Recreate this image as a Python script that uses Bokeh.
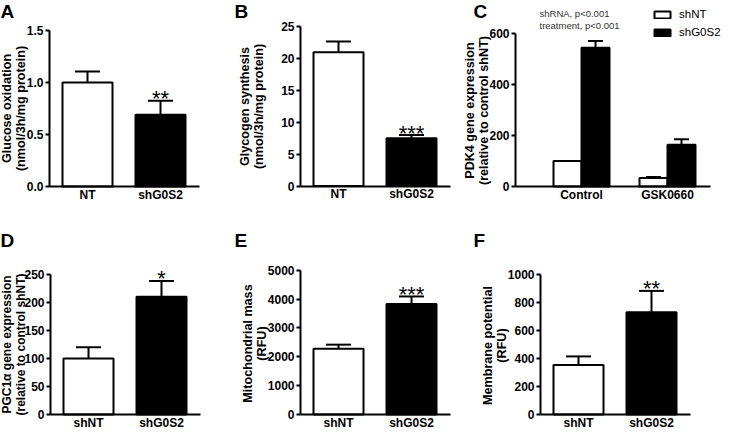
import math
from bokeh.plotting import figure
from bokeh.layouts import row, column
from bokeh.models import (FixedTicker, Whisker, TeeHead, Label, Legend, LegendItem,
                          ColumnDataSource, NumeralTickFormatter)
from bokeh.core.properties import value
from bokeh.embed import file_html
from bokeh.resources import INLINE

FONT = "Liberation Sans"

# ---------------- data ----------------
# Panel A: glucose oxidation
a_groups = ["NT", "shG0S2"]
a_mean = [1.00, 0.69]
a_sem = [0.106, 0.135]
a_stars = ["", "**"]
a_yticks = [0.0, 0.5, 1.0, 1.5]
a_ylabel = "Glucose oxidation\n(nmol/3h/mg protein)"

# Panel B: glycogen synthesis
b_groups = ["NT", "shG0S2"]
b_mean = [21.0, 7.5]
b_sem = [1.7, 0.5]
b_stars = ["", "***"]
b_yticks = [0, 5, 10, 15, 20, 25]
b_ylabel = "Glycogen synthesis\n(nmol/3h/mg protein)"

# Panel C: PDK4 gene expression
c_groups = ["Control", "GSK0660"]
c_series = ["shNT", "shG0S2"]
c_shNT_mean = [100, 33]
c_shNT_sem = [0, 4]
c_shG0S2_mean = [545, 164]
c_shG0S2_sem = [27, 22]
c_yticks = [0, 200, 400, 600]
c_notes = ["shRNA, p<0.001", "treatment, p<0.001"]
c_ylabel = "PDK4 gene expression\n(relative to control shNT)"

# Panel D: PGC1a gene expression
d_groups = ["shNT", "shG0S2"]
d_mean = [100, 210]
d_sem = [20, 28]
d_stars = ["", "*"]
d_yticks = [0, 50, 100, 150, 200, 250]
d_ylabel = "PGC1\u03b1 gene expression\n(relative to control shNT)"

# Panel E: mitochondrial mass
e_groups = ["shNT", "shG0S2"]
e_mean = [2280, 3830]
e_sem = [140, 260]
e_stars = ["", "***"]
e_yticks = [0, 1000, 2000, 3000, 4000, 5000]
e_ylabel = "Mitochondrial mass\n(RFU)"

# Panel F: membrane potential
f_groups = ["shNT", "shG0S2"]
f_mean = [352, 729]
f_sem = [62, 152]
f_stars = ["", "**"]
f_yticks = [0, 200, 400, 600, 800, 1000]
f_ylabel = "Membrane potential\n(RFU)"

bar_colors = ["white", "black"]

# ---------------- layout (page pixels) ----------------
ROW1 = (8, 225)
ROW2 = (225, 439)
COLS = [(8, 240), (240, 470), (470, 730)]


def make_panel(col, rw, axis_x, x1, unit, x_end, zero_y, top_y, yticks, yfmt=None):
    left, right = col
    top, bottom = rw
    xs = 1 + (left - x1) / unit
    xe = 1 + (right - x1) / unit
    k = yticks[-1] / (zero_y - top_y)
    ys = -(bottom - zero_y) * k
    ye = (zero_y - top) * k
    p = figure(width=right - left, height=bottom - top, output_backend="svg",
               toolbar_location=None, title=None, x_range=(xs, xe), y_range=(ys, ye),
               min_border=0)
    p.outline_line_color = None
    p.grid.visible = False
    p.background_fill_color = "white"
    p.border_fill_color = "white"
    ax_x = 1 + (axis_x - x1) / unit
    for ax in (p.xaxis[0], p.yaxis[0]):
        ax.axis_line_width = 2
        ax.axis_line_color = "black"
        ax.major_tick_line_width = 2
        ax.major_tick_line_color = "black"
        ax.minor_tick_line_color = None
        ax.major_label_text_font = FONT
        ax.major_label_text_font_style = "bold"
        ax.major_label_text_font_size = "12px"
        ax.major_label_text_color = "black"
        ax.axis_label = None
    ya = p.yaxis[0]
    ya.fixed_location = ax_x
    ya.bounds = (yticks[0], yticks[-1])
    ya.ticker = FixedTicker(ticks=yticks)
    if yfmt:
        ya.formatter = NumeralTickFormatter(format=yfmt)
    ya.major_tick_out = 4
    ya.major_tick_in = 0
    ya.major_label_standoff = 2
    xa = p.xaxis[0]
    xa.fixed_location = 0
    xa.bounds = (ax_x, 1 + (x_end - x1) / unit)
    xa.major_tick_out = 0
    xa.major_tick_in = 0
    xa.major_label_standoff = 1
    p._box = (left, top, right, bottom)
    return p


def add_text(p, text, page_x, page_y, size, bold=True, baseline="top", color="black",
             align="left", angle=0.0):
    left, top, right, bottom = p._box
    p.add_layout(Label(x=page_x - left, y=bottom - page_y, x_units="screen",
                       y_units="screen", text=text, text_font=FONT,
                       text_font_style="bold" if bold else "normal",
                       text_font_size=size, text_baseline=baseline,
                       text_align=align, text_color=color, angle=angle,
                       text_line_height=1.0))


def add_ytitle(p, text, cx, cy, size="12.6px"):
    add_text(p, text, cx, cy, size, baseline="middle", align="center", angle=math.pi / 2)


def two_bar(p, groups, mean, sem, stars):
    xs = list(range(1, len(groups) + 1))
    src = ColumnDataSource(dict(x=xs, top=mean,
                                upper=[m + s for m, s in zip(mean, sem)],
                                fill=bar_colors, stars=stars))
    p.vbar(x="x", top="top", bottom=0, width=50 / 73, fill_color="fill",
           line_color="black", line_width=2, source=src)
    p.add_layout(Whisker(base="x", lower="top", upper="upper", source=src,
                         line_width=2, line_color="black", lower_head=None,
                         upper_head=TeeHead(size=25, line_width=2, line_color="black")))
    p.text(x="x", y="upper", text="stars", source=src, text_font=value(FONT),
           text_font_size="22px", text_align="center", text_baseline="alphabetic",
           y_offset=-2, text_color="black")
    p.xaxis[0].ticker = FixedTicker(ticks=xs)
    p.xaxis[0].major_label_overrides = {t: l for t, l in zip(xs, groups)}
    return p


# ---- Row 1 ----
pA = make_panel(COLS[0], ROW1, 57, 95, 73, 207, 194, 38, a_yticks, yfmt="0.0")
two_bar(pA, a_groups, a_mean, a_sem, a_stars)
add_ytitle(pA, a_ylabel, 21, 116)
add_text(pA, "A", 8, 8, "19px")

pB = make_panel(COLS[1], ROW1, 308, 346, 73, 458, 193.5, 34.3, b_yticks)
two_bar(pB, b_groups, b_mean, b_sem, b_stars)
add_ytitle(pB, b_ylabel, 259, 114)
add_text(pB, "B", 242, 8, "19px")

pC = make_panel(COLS[2], ROW1, 523, 589, 86, 718, 194, 41.3, c_yticks)
cx = list(range(1, len(c_groups) + 1))
off = 14 / 86
src_nt = ColumnDataSource(dict(x=[v - off for v in cx], top=c_shNT_mean,
                               upper=[m + s for m, s in zip(c_shNT_mean, c_shNT_sem)]))
src_g = ColumnDataSource(dict(x=[v + off for v in cx], top=c_shG0S2_mean,
                              upper=[m + s for m, s in zip(c_shG0S2_mean, c_shG0S2_sem)]))
r_nt = pC.vbar(x="x", top="top", bottom=0, width=28 / 86, fill_color=bar_colors[0],
               line_color="black", line_width=2, source=src_nt)
r_g = pC.vbar(x="x", top="top", bottom=0, width=28 / 86, fill_color=bar_colors[1],
              line_color="black", line_width=2, source=src_g)
for s in (src_nt, src_g):
    pC.add_layout(Whisker(base="x", lower="top", upper="upper", source=s,
                          line_width=2, line_color="black", lower_head=None,
                          upper_head=TeeHead(size=15, line_width=2, line_color="black")))
pC.xaxis[0].ticker = FixedTicker(ticks=cx)
pC.xaxis[0].major_label_overrides = {t: l for t, l in zip(cx, c_groups)}
add_ytitle(pC, c_ylabel, 484, 118)
add_text(pC, "C", 481, 8, "19px")
for i, note in enumerate(c_notes):
    add_text(pC, note, 547, 20.7 + 12.3 * i, "9.5px", bold=False, baseline="middle",
             color="#333333")
leg = Legend(items=[LegendItem(label=c_series[0], renderers=[r_nt]),
                    LegendItem(label=c_series[1], renderers=[r_g])],
             location=(660 - COLS[2][0], ROW1[1] - 49), orientation="vertical",
             border_line_color=None, background_fill_alpha=0,
             padding=0, margin=0, spacing=0, label_standoff=7,
             glyph_width=20, glyph_height=9, label_height=18,
             label_text_font=FONT, label_text_font_size="11.5px",
             label_text_color="black")
pC.add_layout(leg)

# ---- Row 2 ----
pD = make_panel(COLS[0], ROW2, 58, 96, 73, 208, 422, 281.7, d_yticks)
two_bar(pD, d_groups, d_mean, d_sem, d_stars)
add_ytitle(pD, d_ylabel, 21, 352, size="12px")
add_text(pD, "D", 8, 237, "19px")

pE = make_panel(COLS[1], ROW2, 308, 346, 73, 458, 422, 277.7, e_yticks)
two_bar(pE, e_groups, e_mean, e_sem, e_stars)
add_ytitle(pE, e_ylabel, 262.5, 351)
add_text(pE, "E", 242, 237, "19px")

pF = make_panel(COLS[2], ROW2, 548, 586, 73, 698, 422, 281.7, f_yticks)
two_bar(pF, f_groups, f_mean, f_sem, f_stars)
add_ytitle(pF, f_ylabel, 502.5, 353)
add_text(pF, "F", 481, 237, "19px")

layout = column(row(pA, pB, pC), row(pD, pE, pF))
open("out.html", "w").write(file_html(layout, INLINE))
